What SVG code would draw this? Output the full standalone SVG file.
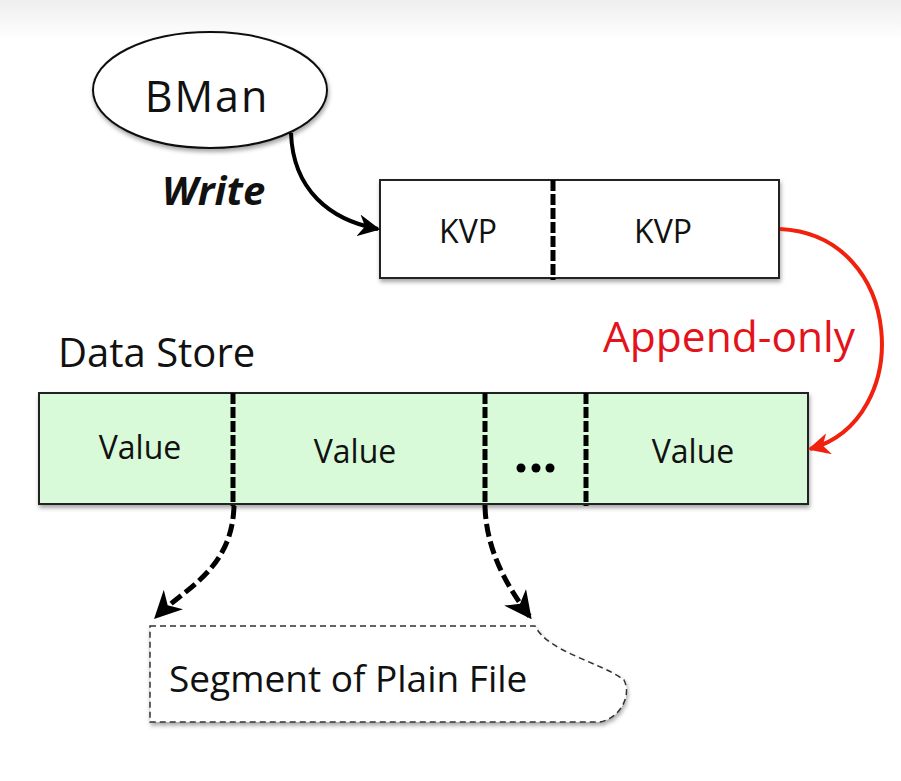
<svg xmlns="http://www.w3.org/2000/svg" width="901" height="781" viewBox="0 0 901 781">
<defs>
  <linearGradient id="bg" x1="0" y1="0" x2="0" y2="1">
    <stop offset="0" stop-color="#eeeeee"/>
    <stop offset="1" stop-color="#ffffff"/>
  </linearGradient>
  <filter id="sh" x="-10%" y="-20%" width="120%" height="150%">
    <feDropShadow dx="1" dy="3" stdDeviation="2" flood-color="#000" flood-opacity="0.35"/>
  </filter>
  <marker id="ab" viewBox="0 0 10 10" refX="9" refY="5" markerWidth="5.5" markerHeight="5.5" orient="auto" markerUnits="strokeWidth">
    <path d="M0,0 L10,5 L0,10 L3,5 Z" fill="#000"/>
  </marker>
  <marker id="ar" viewBox="0 0 10 10" refX="9" refY="5" markerWidth="5.5" markerHeight="5.5" orient="auto" markerUnits="strokeWidth">
    <path d="M0,0 L10,5 L0,10 L3,5 Z" fill="#f0220f"/>
  </marker>
  <style>
    .t { font-family: "Open Sans", "Liberation Sans", sans-serif; fill: #111; }
    .box { stroke: #222; stroke-width: 2; filter: url(#sh); }
    .div { stroke: #000; stroke-width: 5; stroke-dasharray: 11 3; fill: none; }
    .dconn { stroke: #000; stroke-width: 5; stroke-dasharray: 13 5; fill: none; }
  </style>
</defs>
<rect x="0" y="0" width="901" height="40" fill="url(#bg)"/>

<g id="bman">
  <ellipse cx="210" cy="90" rx="117" ry="58" fill="#fff" stroke="#111" stroke-width="2" filter="url(#sh)"/>
  <text class="t" x="207" y="112" font-size="43" text-anchor="middle" letter-spacing="2">BMan</text>
</g>

<g id="kvp">
  <rect class="box" x="380" y="180" width="399" height="98" fill="#fff"/>
  <line class="div" x1="553" y1="180" x2="553" y2="280"/>
  <text class="t" x="468" y="243" font-size="32" text-anchor="middle">KVP</text>
  <text class="t" x="663" y="243" font-size="32" text-anchor="middle">KVP</text>
</g>

<g id="datastore">
  <text class="t" x="58" y="367" font-size="40">Data Store</text>
  <rect class="box" x="39" y="393" width="769" height="111" fill="#d9fad9"/>
  <line class="div" x1="233" y1="393" x2="233" y2="506"/>
  <line class="div" x1="485" y1="393" x2="485" y2="506"/>
  <line class="div" x1="586" y1="393" x2="586" y2="506"/>
  <text class="t" x="140" y="459" font-size="32" text-anchor="middle">Value</text>
  <text class="t" x="355" y="463" font-size="32" text-anchor="middle">Value</text>
  <text class="t" x="693" y="463" font-size="32" text-anchor="middle">Value</text>
  <circle cx="521" cy="468" r="4.5" fill="#000"/>
  <circle cx="536" cy="468" r="4.5" fill="#000"/>
  <circle cx="550" cy="468" r="4.5" fill="#000"/>
</g>

<g id="segment">
  <path d="M150 626 L535 626 C 548 652, 600 662, 624 680 C 632 696, 620 718, 600 722 L150 722 Z" fill="#fff" stroke="#333" stroke-width="1.5" stroke-dasharray="6 4" filter="url(#sh)"/>
  <text class="t" x="169" y="692" font-size="37">Segment of Plain File</text>
</g>

<g id="connectors">
  <path d="M291 133 C 293 190, 330 220, 378 229" stroke="#000" stroke-width="4" fill="none" marker-end="url(#ab)"/>
  <text class="t" x="162" y="205" font-size="40" font-weight="bold" font-style="italic">Write</text>
  <path d="M780 229 C 905 235, 915 420, 810 449" stroke="#f0220f" stroke-width="4" fill="none" marker-end="url(#ar)"/>
  <text class="t" x="603" y="352" font-size="42" fill="#e3131b" style="fill:#e3131b" textLength="252" lengthAdjust="spacingAndGlyphs">Append-only</text>
  <path class="dconn" d="M234 506 C 232 570, 185 588, 156 617" marker-end="url(#ab)"/>
  <path class="dconn" d="M485 506 C 486 545, 502 580, 530 617" marker-end="url(#ab)"/>
</g>
</svg>
